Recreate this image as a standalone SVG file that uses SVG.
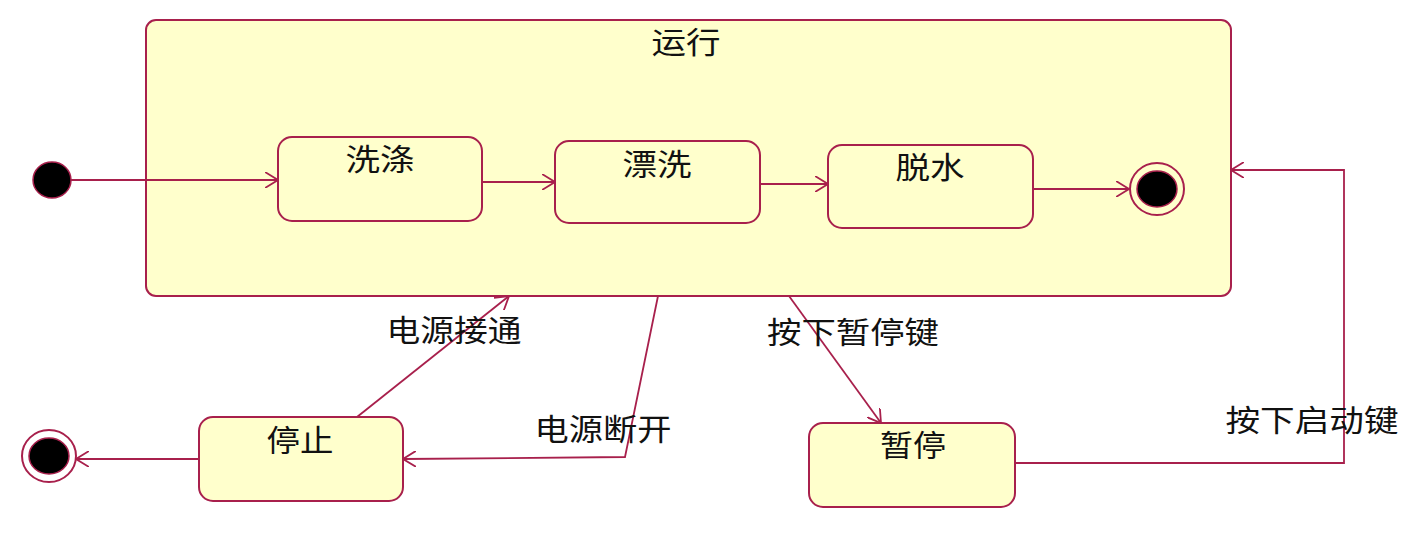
<svg xmlns="http://www.w3.org/2000/svg" width="1412" height="541" viewBox="0 0 1412 541">
<defs>
<style>
.st{fill:#FFFFCC;stroke:#A8204C;stroke-width:2}
.ln{fill:none;stroke:#A8204C;stroke-width:1.8}
.tx{font-family:"Noto Sans CJK SC","Noto Sans",sans-serif;font-size:30px;fill:#111;text-anchor:middle}
.dot{fill:#000;stroke:#A8204C;stroke-width:1.5}
</style>
<marker id="arr" viewBox="0 0 14 16" markerWidth="14" markerHeight="16" refX="13" refY="8" orient="auto" markerUnits="userSpaceOnUse">
<path d="M0,0 L13,8 L0,16" fill="none" stroke="#A8204C" stroke-width="1.8"/>
</marker>
</defs>
<rect width="1412" height="541" fill="#fff"/>
<g id="running">
<rect class="st" x="146" y="20" width="1085" height="276" rx="10"/>
<text class="tx" x="686" y="53" textLength="69" lengthAdjust="spacingAndGlyphs">运行</text>
</g>
<g id="initial">
<ellipse class="dot" cx="52" cy="180" rx="19" ry="18"/>
</g>
<g id="wash">
<rect class="st" x="278" y="137" width="204" height="84" rx="14"/>
<text class="tx" x="380" y="170" textLength="69" lengthAdjust="spacingAndGlyphs">洗涤</text>
</g>
<g id="rinse">
<rect class="st" x="555" y="141" width="205" height="82" rx="14"/>
<text class="tx" x="657" y="175" textLength="69" lengthAdjust="spacingAndGlyphs">漂洗</text>
</g>
<g id="spin">
<rect class="st" x="828" y="145" width="205" height="83" rx="14"/>
<text class="tx" x="930" y="178" textLength="69" lengthAdjust="spacingAndGlyphs">脱水</text>
</g>
<g id="final-inner">
<ellipse cx="1157" cy="189" rx="27" ry="26" fill="none" stroke="#A8204C" stroke-width="2"/>
<ellipse class="dot" cx="1157" cy="189" rx="20" ry="18"/>
</g>
<g id="stop">
<rect class="st" x="199" y="417" width="204" height="84" rx="14"/>
<text class="tx" x="300" y="451" textLength="67" lengthAdjust="spacingAndGlyphs">停止</text>
</g>
<g id="pause">
<rect class="st" x="809" y="423" width="206" height="84" rx="14"/>
<text class="tx" x="913" y="456" textLength="66" lengthAdjust="spacingAndGlyphs">暂停</text>
</g>
<g id="final-outer">
<ellipse cx="49" cy="456" rx="27" ry="26" fill="none" stroke="#A8204C" stroke-width="2"/>
<ellipse class="dot" cx="49" cy="456" rx="20" ry="18"/>
</g>
<g id="connectors">
<path class="ln" d="M71,180 L278,180" marker-end="url(#arr)"/>
<path class="ln" d="M482,182 L555,182" marker-end="url(#arr)"/>
<path class="ln" d="M760,184 L828,184" marker-end="url(#arr)"/>
<path class="ln" d="M1033,189 L1129,189" marker-end="url(#arr)"/>
<path class="ln" d="M789,296 L881,423" marker-end="url(#arr)"/>
<path class="ln" d="M658,296 L625,457 L403,459" marker-end="url(#arr)"/>
<path class="ln" d="M357,417 L509,296" marker-end="url(#arr)"/>
<path class="ln" d="M199,459 L76,459" marker-end="url(#arr)"/>
<path class="ln" d="M1015,463 L1344,463 L1344,170 L1231,170" marker-end="url(#arr)"/>
</g>
<g id="labels">
<text class="tx" x="454" y="341" textLength="135" lengthAdjust="spacingAndGlyphs">电源接通</text>
<text class="tx" x="603" y="440" textLength="137" lengthAdjust="spacingAndGlyphs">电源断开</text>
<text class="tx" x="853" y="343" textLength="172" lengthAdjust="spacingAndGlyphs">按下暂停键</text>
<text class="tx" x="1312" y="431" textLength="173" lengthAdjust="spacingAndGlyphs">按下启动键</text>
</g>
</svg>
